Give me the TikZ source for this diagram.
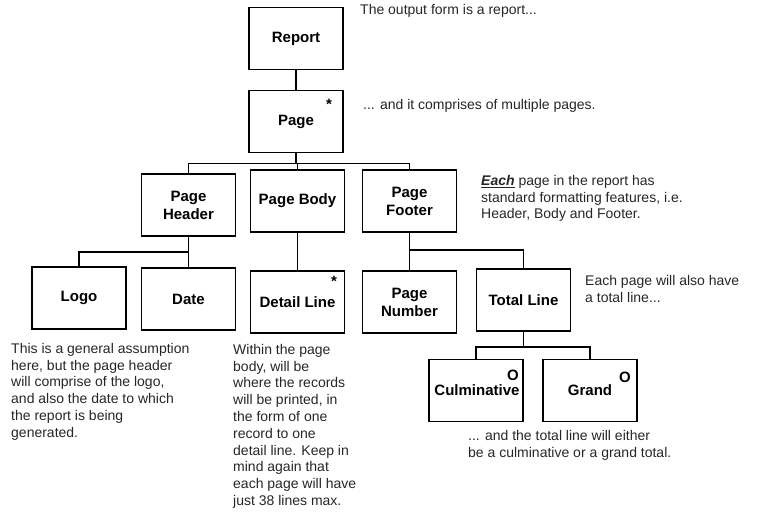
\documentclass[tikz,border=0pt]{standalone}
\usepackage{fontspec}
\setmainfont{Liberation Sans}
\usetikzlibrary{calc}
\begin{document}
\begin{tikzpicture}[x=1pt,y=-1pt,
  box/.style={draw, line width=1.9pt, minimum width=94pt, minimum height=62pt,
    inner sep=0pt, align=center, font=\fontsize{15}{18}\selectfont\bfseries},
  note/.style={anchor=north west, inner sep=0pt, align=left, text=black!85,
    font=\fontsize{14}{16.8}\selectfont},
  tag/.style={anchor=base, inner sep=0pt, font=\fontsize{15}{18}\selectfont\bfseries},
  link/.style={line width=1.9pt}
]
\useasboundingbox (0,0) rectangle (762,514);

% boxes of the report structure
\node[box] (report) at (296,38.5) {Report};
\node[box] (page)   at (296,121.5) {Page};
\node[box] (hdr)    at (188.5,205) {Page\\Header};
\node[box] (body)   at (297.5,201) {Page Body};
\node[box] (ftr)    at (409.5,201) {Page\\Footer};
\node[box] (logo)   at (79,298) {Logo};
\node[box] (date)   at (188.5,299) {Date};
\node[box] (detail) at (297.5,302) {Detail Line};
\node[box] (pnum)   at (409.5,302) {Page\\Number};
\node[box] (total)  at (523.5,300) {Total Line};
\node[box] (culm)   at (476,390.5) {\hspace*{2pt}Culminative};
\node[box] (grand)  at (590,390.5) {Grand};

% iteration and selection marks
\node[tag] (pagestar)   at (329,109) {*};
\node[tag] (detailstar) at (334,286) {*};
\node[tag] (culmsel)    at (513,380) {O};
\node[tag] (grandsel)   at (625,382) {O};

% connectors
\draw[link] (report) -- (page);
\draw[link] (page.south) -- ++(0,10) coordinate (b1);
\draw[link] (b1) -| (hdr.north);
\draw[link] (b1) -| (body.north);
\draw[link] (b1) -| (ftr.north);
\draw[link] (hdr) -- (date);
\draw[link] ($(hdr.south)+(0,15)$) coordinate (b2) -| (logo.north);
\draw[link] (body) -- (detail);
\draw[link] (ftr) -- (pnum);
\draw[link] ($(ftr.south)+(0,17)$) coordinate (b3) -| (total.north);
\draw[link] (total.south) -- ++(0,15) coordinate (b4);
\draw[link] (b4) -| (culm.north);
\draw[link] (b4) -| (grand.north);

% explanatory notes
\node[note] (n1) at (360,4.5) {The output form is a report...};
\node[note] (n2) at (363,99) {... and it comprises of multiple pages.};
\node[note] (n3) at (481,175) {\underline{\textbf{\textit{Each}}} page in the report has\\standard formatting features, i.e.\\Header, Body and Footer.};
\node[note] (n4) at (585,275) {Each page will also have\\a total line...};
\node[note] (n5) at (11,343) {This is a general assumption\\here, but the page header\\will comprise of the logo,\\and also the date to which\\the report is being\\generated.};
\node[note] (n6) at (233,344) {Within the page\\body, will be\\where the records\\will be printed, in\\the form of one\\record to one\\detail line. Keep in\\mind again that\\each page will have\\just 38 lines max.};
\node[note] (n7) at (468,430.5) {... and the total line will either\\be a culminative or a grand total.};
\end{tikzpicture}
\end{document}
